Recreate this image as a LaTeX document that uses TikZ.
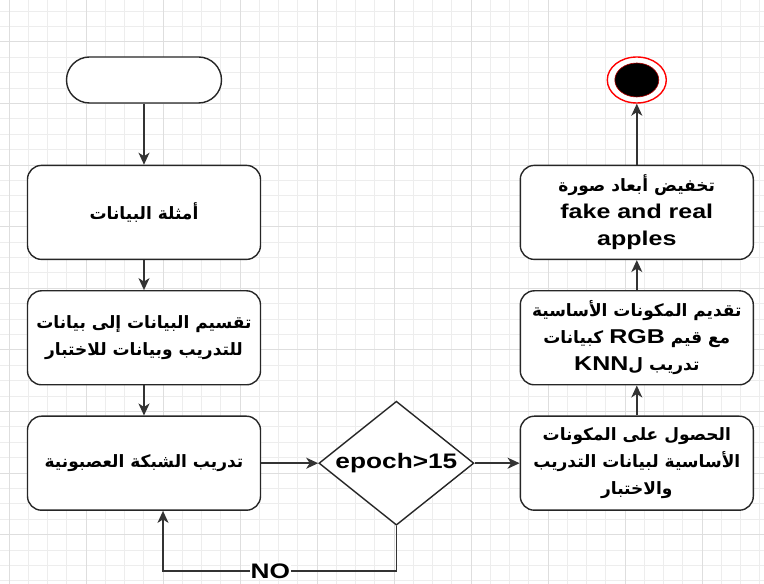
\documentclass[tikz,border=0pt]{standalone}
\usepackage{fontspec}
\setmainfont[FakeStretch=1.25]{Liberation Sans}
\newfontfamily\arabicfont[Script=Arabic]{DejaVu Sans}
\TeXXeTstate=1
\usetikzlibrary{shapes.geometric, arrows.meta, positioning}

\newcommand{\artxt}[1]{{\arabicfont\fontsize{17}{27}\selectfont\beginR #1\endR}}
\newcommand{\latn}[1]{\beginL #1\endL{}}

\begin{document}
\begin{tikzpicture}[
        x=1pt, y=1pt,
        node distance=30pt,
        gridminor/.style={draw=black!7, line width=0.6pt},
        gridmajor/.style={draw=black!13, line width=0.7pt},
        box/.style={rectangle, draw=black!85, fill=white, line width=1.4pt, rounded corners=14pt, minimum width=233pt, minimum height=94pt, inner sep=2pt, align=center, font=\fontsize{20}{27}\selectfont\bfseries},
        term/.style={rectangle, draw=black!85, fill=white, line width=1.4pt, rounded corners=23pt, minimum width=155pt, minimum height=46pt},
        decision/.style={diamond, draw=black!85, fill=white, line width=1.4pt, aspect=1.25, inner sep=0pt, minimum width=155pt, minimum height=124pt, font=\fontsize{21}{25}\selectfont\bfseries},
        endring/.style={ellipse, draw=red, fill=white, line width=1.4pt, minimum width=59pt, minimum height=46pt},
        endcore/.style={ellipse, draw=red!70!black, fill=black, line width=0.6pt, minimum width=44pt, minimum height=34pt},
        flow/.style={draw=black!80, line width=1.6pt, -{Stealth[length=12pt, width=11pt, inset=3.5pt]}},
        nolbl/.style={fill=white, inner sep=1pt, font=\fontsize{21}{25}\selectfont\bfseries}
    ]
        \useasboundingbox[fill=white] (0,0) rectangle (764,584);

        % background grid
        \foreach \k in {0,...,39}
            \draw[gridminor] ({9+19.25*\k},0) -- ({9+19.25*\k},584);
        \foreach \j in {0,...,37}
            \draw[gridminor] (0,{573.1-15.4*\j}) -- (764,{573.1-15.4*\j});
        \foreach \k in {0,4,...,36}
            \draw[gridmajor] ({9+19.25*\k},0) -- ({9+19.25*\k},584);
        \foreach \j in {2,6,...,34}
            \draw[gridmajor] (0,{573.1-15.4*\j}) -- (764,{573.1-15.4*\j});

        \node[term] (start) at (144,504) {};
        \node[box, below=61pt of start] (samples) {\artxt{أمثلة البيانات}};
        \node[box, below=of samples] (split) {\artxt{تقسيم البيانات إلى بيانات}\\\artxt{للتدريب وبيانات للاختبار}};
        \node[box, below=of split] (train) {\artxt{تدريب الشبكة العصبونية}};
        \node[decision, right=57pt of train] (epoch) {epoch>15};
        \node[box, right=45pt of epoch] (pca) {\artxt{الحصول على المكونات}\\\artxt{الأساسية لبيانات التدريب}\\\artxt{والاختبار}};
        \node[box, above=of pca] (rgb) {\artxt{تقديم المكونات الأساسية}\\\artxt{مع قيم {\rmfamily\fontsize{20}{27}\selectfont\latn{RGB}} كبيانات}\\\artxt{تدريب ل{\rmfamily\fontsize{20}{27}\selectfont\latn{KNN}}}};
        \node[box, above=of rgb] (reduce) {\artxt{تخفيض أبعاد صورة}\\fake and real\\apples};
        \node[endring, above=61pt of reduce] (finish) {};
        \node[endcore] (finishdot) at (finish) {};

        \draw[flow] (start) -- (samples);
        \draw[flow] (samples) -- (split);
        \draw[flow] (split) -- (train);
        \draw[flow] (train) -- (epoch);
        \draw[flow] (epoch) -- (pca);
        \draw[flow] (pca) -- (rgb);
        \draw[flow] (rgb) -- (reduce);
        \draw[flow] (reduce) -- (finish);

        \coordinate (loopin) at ([xshift=19pt]train.south);
        \draw[flow] (epoch.south) -- ++(0,-45) -| node[nolbl, pos=0.27] {NO} (loopin);
    \end{tikzpicture}
\end{document}
